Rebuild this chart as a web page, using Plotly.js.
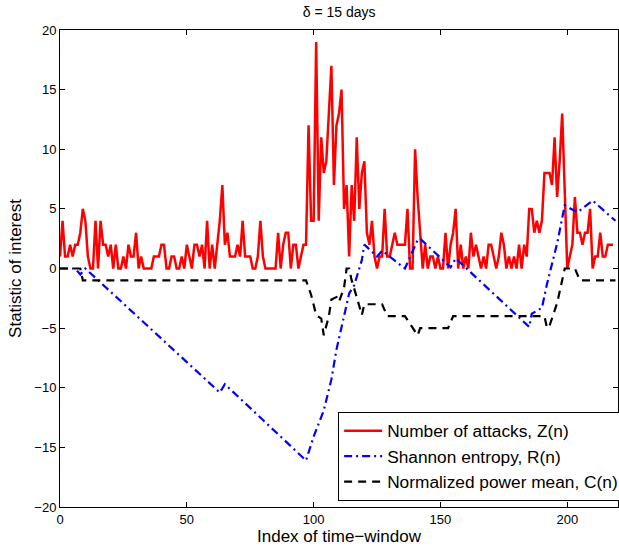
<!DOCTYPE html>
<html>
<head>
<meta charset="utf-8">
<script src="https://cdn.plot.ly/plotly-3.0.1.min.js"></script>
<style>html,body{margin:0;padding:0;background:#fff;}#chart{width:619px;height:549px;}</style>
</head>
<body>
<div id="chart"></div>
<script>
// Number of attacks Z(n), n = 0..218
var attacks = [
 1,4,1,1,2,1,2,2,3,5, 4,1,0,0,4,0,4,2,2,1, 2,0,2,0,0,1,0,2,1,1,
 3,0,1,0,0,0,0,1,1,1, 2,2,0,0,1,1,0,0,1,0, 2,1,0,2,2,1,2,0,4,0,
 2,0,2,4,7,2,3,1,1,1, 2,1,4,1,1,1,0,0,1,4, 1,0,0,0,0,0,3,0,2,3,
 3,0,2,2,0,1,2,2,12,4, 4,19,4,11,8,9,13,17,7,12, 13,15,5,7,1,7,4,11,5,8,
 9,3,2,4,1,0,1,1,5,1, 1,2,3,2,2,2,2,5,0,0, 10,6,3,0,2,0,1,1,0,1,
 0,0,3,0,2,3,5,0,2,0, 1,0,3,1,2,1,0,1,0,2, 2,1,0,1,3,2,0,1,0,1,
 0,2,0,2,1,5,5,3,4,3, 4,8,8,8,7,11,6,9,13,6, 0,1,2,6,3,3,2,3,3,5,
 0,1,1,3,1,1,2,2,2
];
var attacksIdx = attacks.map(function(_, i){ return i; });

// Shannon entropy R(n), read at its corner points
var entropyIdx = [0,6,8,10,63,65,97,100,104,107,109,112,114,116,119,120,125,127,136,141,142,148,154,156,185,186,190,192,196,199,204,210,219];
var entropy    = [0,0,-0.5,0,-10.4,-9.7,-16.1,-14.1,-11.9,-9.3,-6.8,-4.0,-2.1,-1.4,0.7,2.0,1.0,1.5,0,2.4,2.5,1.3,0.1,0.85,-4.9,-3.8,-3.3,-1.3,2.1,5.3,4.7,5.7,4.0];

// Normalized power mean C(n), read at its corner points
var powerIdx  = [0,8,9,97,99,101,103,104,106,107,109,110,112,113,114,115,117,119,120,127,129,136,141,142,153,155,191,192,193,196,199,203,205,219];
var powerMean = [0,0,-1,-1,-2.2,-3.9,-4.2,-5.6,-4,-2.6,-2.4,-2.8,-1.6,0,0,-1,-2.4,-3.9,-3,-3,-4,-4,-5.6,-5,-5,-4,-4,-5,-4.8,-2.9,0,0,-1,-1];

var seriesNames = ['Number of attacks, Z(n)','Shannon entropy, R(n)','Normalized power mean, C(n)'];
var titleText = 'δ = 15 days';
var xTitle = 'Index of time−window';
var yTitle = 'Statistic of interest';
var xTicks = [0,50,100,150,200];
var yTicks = [-20,-15,-10,-5,0,5,10,15,20];

var FONT = 'Liberation Sans, Arial, Helvetica, sans-serif';

var traces = [
 {x: attacksIdx, y: attacks, type:'scatter', mode:'lines', name: seriesNames[0],
  line:{color:'#ff0000', width:2.5}},
 {x: entropyIdx, y: entropy, type:'scatter', mode:'lines', name: seriesNames[1],
  line:{color:'#0000ff', width:2.2, dash:'8px,4px,2px,4px'}},
 {x: powerIdx, y: powerMean, type:'scatter', mode:'lines', name: seriesNames[2],
  line:{color:'#000000', width:2.2, dash:'8px,6px'}}
];

var axisCommon = {
  showgrid:false, zeroline:false, showline:true, linecolor:'#000', linewidth:1,
  mirror:'ticks', ticks:'inside', ticklen:5, tickcolor:'#000', tickwidth:1,
  tickfont:{family:FONT, size:13, color:'#000'}
};

var layout = {
  width:619, height:549,
  margin:{l:60, r:1, t:30, b:42, autoexpand:false},
  paper_bgcolor:'#fff', plot_bgcolor:'#fff',
  font:{family:FONT, color:'#000'},
  title:{text:titleText, font:{family:FONT, size:14, color:'#000'}, x:0.548, xanchor:'center', y:0.978, yanchor:'middle'},
  xaxis: Object.assign({}, axisCommon, {range:[0,220], tickvals:xTicks, ticktext:xTicks.map(String),
     title:{text:xTitle, font:{family:FONT, size:17, color:'#000'}, standoff:2}}),
  yaxis: Object.assign({}, axisCommon, {range:[-20,20], tickvals:yTicks,
     title:{text:yTitle, font:{family:FONT, size:17, color:'#000'}, standoff:8}}),
  showlegend:true,
  legend:{x:1.011, xanchor:'right', y:0.0126, yanchor:'bottom', bgcolor:'#fff',
    bordercolor:'#000', borderwidth:1, font:{family:FONT, size:17.3, color:'#000'},
    tracegroupgap:0, itemwidth:38}
};

Plotly.newPlot('chart', traces, layout, {displayModeBar:false, staticPlot:true});
</script>
</body>
</html>
